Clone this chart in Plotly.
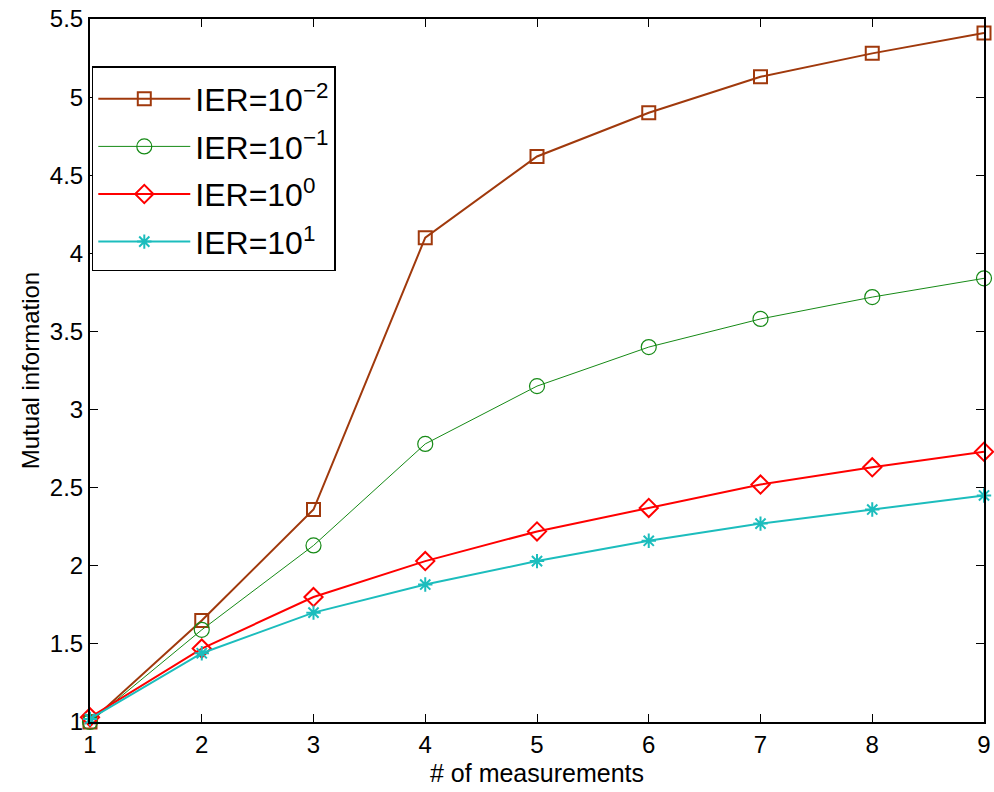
import plotly.graph_objects as go

x = [1, 2, 3, 4, 5, 6, 7, 8, 9]
ier_m2 = [1.00, 1.65, 2.36, 4.10, 4.62, 4.90, 5.13, 5.28, 5.41]
ier_m1 = [1.00, 1.59, 2.13, 2.78, 3.15, 3.40, 3.58, 3.72, 3.84]
ier_0 = [1.03, 1.47, 1.80, 2.03, 2.22, 2.37, 2.52, 2.63, 2.73]
ier_1 = [1.02, 1.44, 1.70, 1.88, 2.03, 2.16, 2.27, 2.36, 2.45]

names = ["IER=10<sup>−2</sup>", "IER=10<sup>−1</sup>", "IER=10<sup>0</sup>", "IER=10<sup>1</sup>"]
series = [ier_m2, ier_m1, ier_0, ier_1]
colors = ["#A0390C", "#168A16", "#FF0000", "#1CBDBD"]
widths = [2, 1, 2, 2]
symbols = ["square-open", "circle-open", "diamond-open", "asterisk-open"]
sizes = [13, 15, 14, 12]

fig = go.Figure()
for i, (nm, ys, c, w, s, sz) in enumerate(zip(names, series, colors, widths, symbols, sizes)):
    fig.add_trace(go.Scatter(
        x=x, y=ys, name=nm, mode="lines+markers", legendgroup=f"g{i}",
        line=dict(color=c, width=w),
        marker=dict(symbol=s, size=sz, color=c, line=dict(color=c, width=2 if w > 1 else 1.2)),
        cliponaxis=False,
    ))

FONT = "Liberation Sans, Arial, Helvetica, sans-serif"
axis_common = dict(
    showline=True, linecolor="black", linewidth=2, mirror="ticks",
    ticks="inside", ticklen=8, tickcolor="black", tickwidth=1,
    showgrid=False, zeroline=False, automargin=False,
    tickfont=dict(family=FONT, size=24, color="black"),
)

fig.update_layout(
    width=994, height=792,
    margin=dict(l=90, r=10, t=19, b=70),
    plot_bgcolor="white", paper_bgcolor="white",
    font=dict(family=FONT, color="black"),
    xaxis=dict(range=[1, 9], tickvals=x,
               title=dict(text="# of measurements", font=dict(size=25), standoff=8),
               **axis_common),
    yaxis=dict(range=[1, 5.5], dtick=0.5, tick0=1,
               title=dict(text="Mutual information", font=dict(size=24), standoff=3),
               **axis_common),
    legend=dict(
        x=0.002, y=0.933, xanchor="left", yanchor="top",
        bgcolor="white", bordercolor="black", borderwidth=1.5,
        font=dict(family=FONT, size=32, color="black"),
        itemwidth=92, tracegroupgap=3, traceorder="grouped",
        title=dict(text=" ", font=dict(size=3)),
    ),
    showlegend=True,
)

fig.write_html("out.html", config={"displayModeBar": False},
               post_script="document.body.style.margin='0px';document.body.style.overflow='hidden';")
